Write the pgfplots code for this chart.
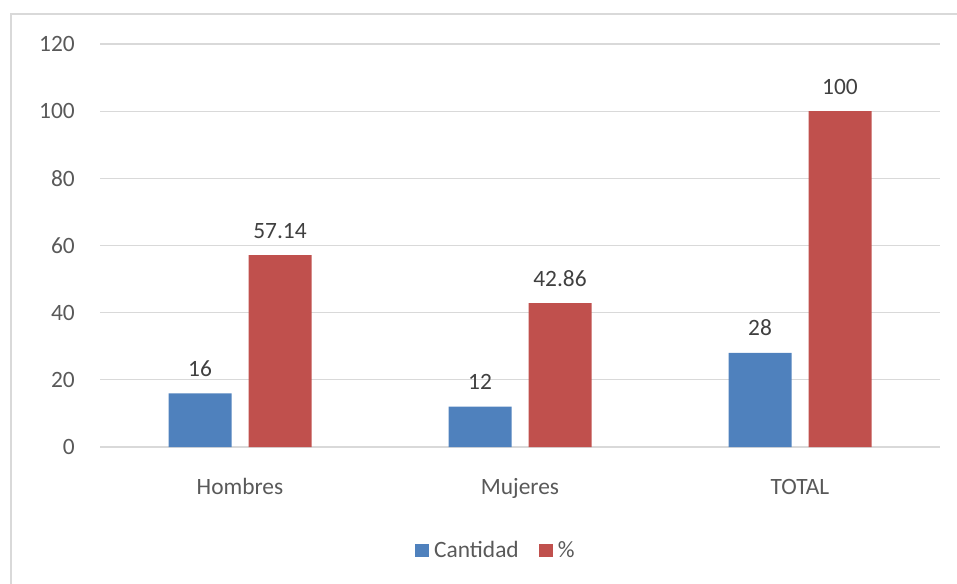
\documentclass[border=0pt]{standalone}
\usepackage{fontspec}
\setmainfont{Carlito}
\usepackage{pgfplots}
\pgfplotsset{compat=1.18}
\definecolor{serieA}{HTML}{4F81BD}
\definecolor{serieB}{HTML}{C0504D}
\definecolor{gridgray}{HTML}{D9D9D9}
\definecolor{labelgray}{HTML}{595959}
\definecolor{valuegray}{HTML}{404040}
\begin{document}
\begin{tikzpicture}
\useasboundingbox (0pt,0pt) rectangle (957pt,583pt);
\clip (0pt,0pt) rectangle (957pt,583pt);
% chart frame
\draw[gridgray, line width=2pt] (10.5pt,-10pt) |- (980pt,568.5pt);
\begin{axis}[
  at={(100pt,136pt)}, anchor=south west,
  scale only axis, width=840pt, height=403pt,
  font=\fontsize{23.4}{28}\selectfont,
  /pgf/number format/assume math mode=true,
  ybar=17pt, bar width=63pt,
  xmin=-0.5, xmax=2.5, ymin=0, ymax=120,
  xtick=data, xticklabels={Hombres,Mujeres,TOTAL},
  ytick={0,20,...,120},
  major tick length=0pt,
  axis line style={draw=none},
  ymajorgrids, grid style={gridgray, line width=1.2pt},
  yticklabel style={labelgray, inner sep=0pt, anchor=east, xshift=-25pt},
  xticklabel style={labelgray, inner sep=0pt, anchor=base, yshift=-47pt},
  nodes near coords,
  every node near coord/.append style={valuegray, inner sep=0pt, anchor=base, yshift=17pt,
    /pgf/number format/.cd, fixed, precision=2},
  legend columns=2,
  legend style={draw=none, fill=none, inner sep=0pt, text=labelgray,
    at={(axis description cs:0.375,-0.233)}, anchor=north west,
    nodes={inner sep=0pt, anchor=base west},
    /tikz/every odd column/.append style={column sep=5pt},
    /tikz/every even column/.append style={column sep=20pt}},
  legend image code/.code={\fill[#1] (0pt,0pt) rectangle (14pt,13.5pt);},
]
\addplot[fill=serieA, draw=none] coordinates {(0,16) (1,12) (2,28)};
\addplot[fill=serieB, draw=none] coordinates {(0,57.14) (1,42.86) (2,100)};
\legend{Cantidad,\%}
\end{axis}
\end{tikzpicture}
\end{document}
